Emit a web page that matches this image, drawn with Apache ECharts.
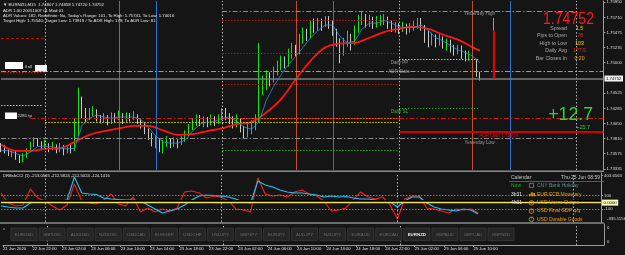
<!DOCTYPE html>
<html><head><meta charset="utf-8">
<script src="https://cdn.jsdelivr.net/npm/echarts@6/dist/echarts.min.js"></script>
<style>html,body{margin:0;padding:0;background:#151515;overflow:hidden}#c{width:625px;height:255px}</style>
</head><body><div id="c"></div>
<script>
// ---------- data ----------
const timeLabels = ['21 Jun 2020','22 Jun 22:00','23 Jun 02:00','23 Jun 06:00','23 Jun 10:00','23 Jun 14:00','23 Jun 18:00','23 Jun 22:00','24 Jun 02:00','24 Jun 06:00','24 Jun 10:00','24 Jun 14:00','24 Jun 18:00','24 Jun 22:00','25 Jun 02:00','25 Jun 06:00','25 Jun 10:00'];
const priceTicks = [1.73335,1.73575,1.73810,1.74050,1.74285,1.74525,1.75000,1.75235,1.75475,1.75710,1.75950];
const cciTicks = [403.6563,100,-100];
const cciTickLabels = ['403.6563','100','-100'];
const cciMinLabel = '-335.1156';

const opens = [1.7369,1.7366,1.7363,1.7357,1.7360,1.7352,1.7348,1.7354,1.7363,1.7371,
1.7379,1.7374,1.7368,1.7372,1.7366,1.7371,1.7363,1.7368,1.7362,1.7365,
1.7363,1.7387,1.7441,1.7422,1.7413,1.7422,1.7425,1.7413,1.7410,1.7415,
1.7407,1.7416,1.7413,1.7419,1.7410,1.7416,1.7413,1.7418,1.7410,1.7404,
1.7394,1.7385,1.7376,1.7379,1.7368,1.7372,1.7379,1.7371,1.7376,1.7372,
1.7379,1.7388,1.7397,1.7404,1.7413,1.7407,1.7410,1.7404,1.7413,1.7407,
1.7413,1.7422,1.7416,1.7410,1.7404,1.7410,1.7397,1.7388,1.7394,1.7401,
1.7410,1.7453,1.7464,1.7475,1.7472,1.7485,1.7494,1.7500,1.7497,1.7513,
1.7519,1.7516,1.7534,1.7542,1.7541,1.7558,1.7553,1.7562,1.7559,1.7569,
1.7562,1.7550,1.7534,1.7519,1.7531,1.7538,1.7531,1.7550,1.7566,1.7569,
1.7562,1.7566,1.7559,1.7564,1.7569,1.7570,1.7559,1.7555,1.7558,1.7553,
1.7556,1.7550,1.7556,1.7559,1.7564,1.7558,1.7542,1.7534,1.7541,1.7531,
1.7538,1.7528,1.7533,1.7524,1.7519,1.7524,1.7514,1.7510,1.7514,1.7503,
1.74807];
const closes = [1.7366,1.7363,1.7357,1.7360,1.7352,1.7348,1.7354,1.7363,1.7371,1.7379,
1.7374,1.7368,1.7372,1.7366,1.7371,1.7363,1.7368,1.7362,1.7365,1.7363,
1.7387,1.7441,1.7422,1.7413,1.7422,1.7425,1.7413,1.7410,1.7415,1.7407,
1.7416,1.7413,1.7419,1.7410,1.7416,1.7413,1.7418,1.7410,1.7404,1.7394,
1.7385,1.7376,1.7379,1.7368,1.7372,1.7379,1.7371,1.7376,1.7372,1.7379,
1.7388,1.7397,1.7404,1.7413,1.7407,1.7410,1.7404,1.7413,1.7407,1.7413,
1.7422,1.7416,1.7410,1.7404,1.7410,1.7397,1.7388,1.7394,1.7401,1.7410,
1.7453,1.7464,1.7475,1.7472,1.7485,1.7494,1.7500,1.7497,1.7513,1.7519,
1.7516,1.7534,1.7542,1.7541,1.7558,1.7553,1.7562,1.7559,1.7569,1.7562,
1.7550,1.7534,1.7519,1.7531,1.7538,1.7531,1.7550,1.7566,1.7569,1.7562,
1.7566,1.7559,1.7564,1.7569,1.7570,1.7559,1.7555,1.7558,1.7553,1.7556,
1.7550,1.7556,1.7559,1.7564,1.7558,1.7542,1.7534,1.7541,1.7531,1.7538,
1.7528,1.7533,1.7524,1.7519,1.7524,1.7514,1.7510,1.7514,1.7503,1.74807,
1.74752];
const highs = [1.7374,1.7371,1.7366,1.7365,1.7362,1.7355,1.7358,1.7366,1.7376,1.7383,
1.7382,1.7377,1.7379,1.7374,1.7376,1.7372,1.7374,1.7371,1.7369,1.7371,
1.7413,1.7461,1.7447,1.7429,1.7429,1.7432,1.7427,1.7418,1.7421,1.7418,
1.7422,1.7421,1.7425,1.7421,1.7422,1.7421,1.7424,1.7419,1.7413,1.7407,
1.7397,1.7390,1.7385,1.7382,1.7379,1.7385,1.7382,1.7383,1.7380,1.7385,
1.7394,1.7404,1.7413,1.7419,1.7418,1.7416,1.7415,1.7419,1.7416,1.7419,
1.7429,1.7429,1.7421,1.7416,1.7419,1.7413,1.7401,1.7407,1.7410,1.7419,
1.7531,1.7480,1.7488,1.7485,1.7494,1.7503,1.7511,1.7510,1.7522,1.7531,
1.7528,1.7545,1.7555,1.7553,1.7566,1.7569,1.7570,1.7569,1.7573,1.7573,
1.7566,1.7553,1.7538,1.7539,1.7550,1.7545,1.7558,1.7575,1.7581,1.7576,
1.7575,1.7572,1.7573,1.7575,1.7576,1.7572,1.7566,1.7564,1.7562,1.7564,
1.7561,1.7562,1.7566,1.7570,1.7570,1.7559,1.7550,1.7547,1.7544,1.7545,
1.7541,1.7538,1.7536,1.7528,1.7528,1.7527,1.7519,1.7519,1.7517,1.7506,
1.74858];
const lows = [1.7360,1.7358,1.7354,1.7352,1.7348,1.7343,1.7344,1.7351,1.7360,1.7368,
1.7369,1.7363,1.7365,1.7360,1.7363,1.7358,1.7360,1.7355,1.7358,1.7358,
1.7362,1.7385,1.7413,1.7407,1.7410,1.7416,1.7408,1.7405,1.7407,1.7402,
1.7404,1.7407,1.7410,1.7404,1.7407,1.7408,1.7410,1.7404,1.7397,1.7388,
1.7379,1.7369,1.7366,1.7360,1.7358,1.7368,1.7366,1.7368,1.7366,1.7371,
1.7376,1.7385,1.7394,1.7401,1.7401,1.7399,1.7399,1.7402,1.7401,1.7404,
1.7410,1.7410,1.7404,1.7397,1.7399,1.7391,1.7382,1.7383,1.7388,1.7394,
1.7407,1.7449,1.7457,1.7463,1.7469,1.7480,1.7488,1.7491,1.7494,1.7506,
1.7510,1.7513,1.7530,1.7534,1.7538,1.7547,1.7550,1.7550,1.7556,1.7553,
1.7542,1.7525,1.7499,1.7511,1.7525,1.7519,1.7528,1.7547,1.7559,1.7555,
1.7556,1.7553,1.7555,1.7558,1.7559,1.7553,1.7548,1.7547,1.7545,1.7548,
1.7544,1.7547,1.7550,1.7553,1.7550,1.7531,1.7524,1.7527,1.7524,1.7527,
1.7522,1.7519,1.7516,1.7511,1.7513,1.7506,1.7502,1.7503,1.7494,1.7478,
1.74720];
// slow MA, one value every 4 bars (last one at the final bar)
const slowMA = [1.7372,1.7362,1.7362,1.7365,1.7366,1.7376,1.7387,1.7393,1.7397,1.7401,
1.7401,1.7394,1.7387,1.7388,1.7393,1.7397,1.7404,1.7407,1.7422,1.7443,
1.7474,1.7503,1.7524,1.7530,1.7531,1.7539,1.7548,1.7553,1.7556,1.7553,
1.7544,1.7536,1.7524,1.7519];
// fast MA, one value every 2 bars
const fastMA = [1.7363,1.7362,1.7358,1.7354,1.7360,1.7369,1.7369,1.7368,1.7366,1.7365,
1.7366,1.7402,1.7413,1.7418,1.7415,1.7413,1.7415,1.7415,1.7415,1.7411,
1.7399,1.7385,1.7376,1.7374,1.7374,1.7379,1.7393,1.7404,1.7407,1.7408,
1.7413,1.7415,1.7408,1.7399,1.7396,1.7407,1.7441,1.7463,1.7481,1.7497,
1.7510,1.7524,1.7539,1.7550,1.7559,1.7559,1.7541,1.7531,1.7534,1.7553,
1.7562,1.7562,1.7566,1.7562,1.7556,1.7555,1.7555,1.7559,1.7550,1.7539,
1.7534,1.7527,1.7520,1.7516,1.7510,1.7500];
// CCI lines, one value every 2 bars
const cciSlow = [-55,-70,-85,-85,-10,20,12,5,20,35,380,140,125,117,65,50,42,35,35,20,
-40,-100,-160,-130,-100,-40,35,95,110,102,95,80,50,5,-10,320,260,230,185,155,
140,140,125,110,80,95,80,87,65,50,50,35,20,5,-70,20,80,80,-10,-70,
-100,-115,-130,-100,-115,-175];
const cciFast = [140,-10,-55,-40,200,65,20,-55,-115,-40,275,20,-10,-25,35,125,-25,-55,80,-145,
-85,-145,-100,-130,-85,155,170,140,65,95,80,20,-100,-115,-145,365,125,95,110,80,
155,185,125,95,20,-130,-115,-85,35,155,80,50,80,-40,-250,50,95,95,-85,-100,
-130,-160,-100,-115,-100,-160];
// levels
const yesterdayLevels = [1.7581, 1.7382];
const adrLevels = [1.74866, 1.74125, 1.73919];
const pivots23 = [1.7539, 1.7485, 1.7433, 1.7413, 1.7407];
const pivots24 = [1.7567, 1.7514, 1.7466, 1.7413, 1.7363];
const pivots25 = [1.7505, 1.7428];
const dayBar = [1.7570, 1.7550, 1.74752];
const dayStartIdx = [12, 60, 108, 156];
const sessionOpenIdx = [32, 80, 128];
const sessionCloseIdx = [42.2, 90.2, 138.2];
const statLabels = ['Spread','Pips to Open','High to Low','Daily Avg','Bar Closes In'];
const statValues = ['1.5','-78','103','177.5','0:20'];
const calTimes = ['Now','3h31','4h31','',''];
const calEvents = ['CNY Bank Holiday','EUR ECB Monetary','USD Unem Claims','USD Final GDP q/q','USD Durable Goods'];
const symbols = ['EURUSD','GBPUSD','AUDUSD','NZDUSD','USDCAD','EURGBP','USDCHF','USDJPY','GBPJPY','EURJPY','AUDJPY','NZDJPY','EURAUD','EURCAD','EURNZD','GBPAUD','GBPCAD','GBPNZD'];

// ---------- chart ----------
const FF = '"Liberation Sans","DejaVu Sans",sans-serif';
const X_MAX = 163.5;
const DOT = [1.5,1.5], DASHDOT = [5,2,1.5,2];
const chart = echarts.init(document.getElementById('c'), null, {renderer:'canvas', width:625, height:255});

function hseg(x1,x2,p,color,type,width){ return [{coord:[x1,p], lineStyle:{color:color,type:type,width:width||1}},{coord:[x2,p]}]; }
function vline(x,color,type,width){ return {xAxis:x, lineStyle:{color:color,type:type,width:width||1}}; }
const sepStyle = ['#b5b5b5',[1.5,2],1];

const mainLines = [];
dayStartIdx.forEach(x => mainLines.push(vline(x, sepStyle[0], sepStyle[1], sepStyle[2])));
sessionOpenIdx.forEach(x => mainLines.push(vline(x,'#c4521c','solid',1)));
sessionCloseIdx.forEach(x => mainLines.push(vline(x,'#2474d0','solid',1)));
mainLines.push(hseg(0,11.7,pivots23[0],'#c01010',[3,2]));
mainLines.push(hseg(0,12,pivots23[1],'#c01010',DOT));
mainLines.push(hseg(0,11.3,pivots23[2],'#d8d800',DOT));
mainLines.push(hseg(8,108,pivots23[3],'#c81818',DASHDOT));
mainLines.push(hseg(12,108,pivots23[4],'#d8d800',DOT));
mainLines.push(hseg(60,108,pivots24[0],'#b01818',DOT));
mainLines.push(hseg(60,108,pivots24[1],'#b01818',DOT));
mainLines.push(hseg(60,108,pivots24[2],'#b01818',DOT));
mainLines.push(hseg(60,108,pivots24[3],'#e07000',DOT));
mainLines.push(hseg(60,108,pivots24[4],'#20a020',DOT));
mainLines.push(hseg(108,129.5,pivots25[0],'#d8d800',DOT));
mainLines.push(hseg(108,129.5,pivots25[1],'#20a020',DOT));
mainLines.push(hseg(60,156,yesterdayLevels[0],'#8c8c8c',DASHDOT));
mainLines.push(hseg(0,156,yesterdayLevels[1],'#8c8c8c',DASHDOT));
mainLines.push(hseg(0,X_MAX,adrLevels[0],'#f08c00',DASHDOT));
mainLines.push(hseg(108,X_MAX,adrLevels[1],'#d01818',DASHDOT));
mainLines.push(hseg(108,X_MAX,adrLevels[2],'#d00000','solid',2));
mainLines.push({yAxis:dayBar[2], lineStyle:{color:'#7c7c7c',width:1.5,type:'solid'},
  label:{show:true,position:'end',formatter:dayBar[2].toFixed(5),color:'#000',backgroundColor:'#f0f0f0',fontSize:4.3,fontFamily:FF,padding:[1,1.5],distance:1}});
mainLines.push([{coord:[133.7,dayBar[0]],lineStyle:{color:'#9a9a9a',width:1,type:'solid'}},{coord:[133.7,dayBar[1]]}]);
mainLines.push([{coord:[133.7,dayBar[1]],lineStyle:{color:'#e00000',width:2.2,type:'solid'}},{coord:[133.7,dayBar[2]]}]);

const cciLines = [];
dayStartIdx.forEach(x => cciLines.push(vline(x, sepStyle[0], sepStyle[1], sepStyle[2])));
cciLines.push({yAxis:100, lineStyle:{color:'#7a7a7a',type:DOT,width:1}});
cciLines.push({yAxis:-100, lineStyle:{color:'#7a7a7a',type:DOT,width:1}});
cciLines.push({yAxis:18, lineStyle:{color:'#000',type:'solid',width:2}});
cciLines.push({yAxis:-5, lineStyle:{color:'#f0e060',type:'solid',width:1.3},
  label:{show:true,position:'end',formatter:'0.0000',color:'#000',backgroundColor:'#ffffc0',fontSize:4.3,fontFamily:FF,padding:[1,1.5],distance:1}});
const botLines = [];
dayStartIdx.forEach(x => botLines.push(vline(x, sepStyle[0], sepStyle[1], sepStyle[2])));

const labelIdx = timeLabels.map((_, j) => j * 8);
const candleData = closes.map((c, i) => [i, opens[i], c, lows[i], highs[i]]);
const slowData = slowMA.map((v, j) => [Math.min(j * 4, closes.length - 1), v]);
const fastData = fastMA.map((v, k) => [k * 2, v]);
const cciSlowData = cciSlow.map((v, k) => [k * 2, v]);
const cciFastData = cciFast.map((v, k) => [k * 2, v]);

const mk = (data) => ({symbol:['none','none'], precision:6, silent:true, animation:false, label:{show:false}, emphasis:{disabled:true}, data});
const axisLineStyle = {show:true, onZero:false, lineStyle:{color:'#9c9c9c', width:1}};
const ylab = {color:'#dedede', fontSize:4.3, fontFamily:FF, margin:3};

chart.setOption({
  backgroundColor:'#151515',
  animation:false,
  grid:[
    {left:1, right:21, top:0, height:170},
    {left:1, right:21, top:173, height:49},
    {left:1, right:21, top:224, height:21}
  ],
  xAxis:[
    {type:'value', gridIndex:0, min:0, max:X_MAX, show:false},
    {type:'value', gridIndex:1, min:0, max:X_MAX, show:false},
    {type:'value', gridIndex:2, min:0, max:X_MAX, position:'bottom',
      axisLine:axisLineStyle,
      axisTick:{show:true, customValues:labelIdx, length:2, lineStyle:{color:'#9c9c9c'}},
      axisLabel:{show:true, customValues:labelIdx, formatter:v => timeLabels[Math.round(v/8)] || '', color:'#e0e0e0', fontSize:4.2, fontFamily:FF, align:'left', margin:2},
      splitLine:{show:false}}
  ],
  yAxis:[
    {type:'value', gridIndex:0, position:'right', min:1.73320, max:1.75967, axisLine:axisLineStyle,
      axisTick:{show:true, customValues:priceTicks, length:2, lineStyle:{color:'#9c9c9c'}},
      axisLabel:Object.assign({customValues:priceTicks, formatter:v => v.toFixed(5)}, ylab), splitLine:{show:false}},
    {type:'value', gridIndex:1, position:'right', min:-295.5, max:439.5, axisLine:axisLineStyle,
      axisTick:{show:true, customValues:cciTicks, length:2, lineStyle:{color:'#9c9c9c'}},
      axisLabel:Object.assign({customValues:cciTicks, formatter:v => { const j = cciTicks.findIndex(t => Math.abs(t - v) < 1e-6); return j >= 0 ? cciTickLabels[j] : ''; }}, ylab), splitLine:{show:false}},
    {type:'value', gridIndex:2, position:'right', min:0, max:1, axisLine:axisLineStyle,
      axisTick:{show:false},
      axisLabel:Object.assign({customValues:[0.157,0.824], formatter:() => '0'}, ylab), splitLine:{show:false}}
  ],
  series:[
    {type:'line', xAxisIndex:0, yAxisIndex:0, data:[[0, closes[0]]], showSymbol:false, lineStyle:{opacity:0}, silent:true, z:1, markLine:mk(mainLines)},
    {type:'candlestick', xAxisIndex:0, yAxisIndex:0, data:candleData, encode:{x:0, y:[1,2,3,4]}, barWidth:1.3, z:3, silent:true,
      itemStyle:{color:'#00f000', color0:'#c8c8c8', borderColor:'#00f000', borderColor0:'#c8c8c8', borderWidth:1}},
    {type:'line', xAxisIndex:0, yAxisIndex:0, data:slowData, showSymbol:false, smooth:0.35, z:4, silent:true, lineStyle:{color:'#ff1414', width:1.8}},
    {type:'line', xAxisIndex:0, yAxisIndex:0, data:fastData, showSymbol:false, z:5, silent:true, lineStyle:{color:'#2a90dc', width:0.8}},
    {type:'line', xAxisIndex:1, yAxisIndex:1, data:[[0,0]], showSymbol:false, lineStyle:{opacity:0}, silent:true, z:1, markLine:mk(cciLines)},
    {type:'line', xAxisIndex:1, yAxisIndex:1, data:cciFastData, showSymbol:false, z:3, silent:true, lineStyle:{color:'#ff1a1a', width:1.1}},
    {type:'line', xAxisIndex:1, yAxisIndex:1, data:cciSlowData, showSymbol:false, z:4, silent:true, lineStyle:{color:'#22c4f4', width:1.1}},
    {type:'line', xAxisIndex:2, yAxisIndex:2, data:[[0,0.5]], showSymbol:false, lineStyle:{opacity:0}, silent:true, z:1, markLine:mk(botLines)}
  ]
});

// ---------- text / panel graphics ----------
const g = [];
function txt(x, y, s, fill, size, align, extra) {
  const a = align || 'left';
  g.push(Object.assign({type:'text', x:x, y:y, silent:true, z:50,
    style:{text:s, fill:fill, font:(extra && extra.bold ? 'bold ' : '') + size + 'px ' + FF, textAlign:a, align:a, textVerticalAlign:'middle', verticalAlign:'middle'}},
    extra && extra.el ? extra.el : {}));
}
function rect(x, y, w, h, fill, stroke) {
  g.push({type:'rect', silent:true, z:40, shape:{x:x, y:y, width:w, height:h}, style:{fill:fill || 'none', stroke:stroke || 'none', lineWidth:0.8}});
}
function line(x1, y1, x2, y2, color, w) {
  g.push({type:'line', silent:true, z:45, shape:{x1:x1, y1:y1, x2:x2, y2:y2}, style:{stroke:color, lineWidth:w || 1}});
}
// pane separators
line(0, 171.2, 604, 171.2, '#8a8a8a', 1.4);
line(0, 223, 604, 223, '#8a8a8a', 1.4);

// header texts
txt(3, 5.3, '\u25BC EURNZD,M15  1.74807 1.74858 1.74720 1.74752', '#e8e8e8', 4.3);
txt(3, 10.5, 'ADR 1.00 20051007 01 Mod 01', '#e8e8e8', 4.3);
txt(3, 15.7, "ADR Values: 182, Redefinite: No, Today's Range: 101, To High: 1.75741, To Low: 1.74016", '#e8e8e8', 4.3);
txt(3, 21.3, 'Target High: 1.75540; Target Low: 1.73919 / To ADR High: 179; To ADR Low: 81', '#e8e8e8', 4.3);

// left label boxes
rect(5, 62, 18, 7, '#ffffff');
txt(23.5, 67, '.ll all', '#d8d8d8', 4.3);
rect(35, 65, 12, 6.5, '#ffffff');
rect(5, 112.5, 12, 6.5, '#ffffff');
txt(17.5, 116, '2281 tp', '#d8d8d8', 4.3);

// level captions
txt(479.5, 13.3, 'Yesterday High', '#9a9a9a', 4.6, 'center');
txt(479.5, 142.3, 'Yesterday Low', '#9a9a9a', 4.6, 'center');
txt(399.5, 62.3, 'Daily PP', '#9a9a9a', 4.6, 'center');
txt(399, 71.8, 'ADR Stats', '#9a9a9a', 4.6, 'center');
txt(399.5, 111.7, 'Daily S1', '#3cb043', 4.6, 'center');
txt(498.5, 135.8, 'ADR Low: 1.73919', '#e01010', 4.6, 'center');

// price panel
txt(594, 19.8, dayBar[2].toFixed(5), '#ff1a1a', 17, 'right', {el:{scaleX:0.83}});
const statColors = ['#f0e000','#ff2020','#f0e000','#ff2020','#f0b000'];
const statY = [28.3, 35.6, 43.1, 50.9, 58.6];
statLabels.forEach((s, j) => {
  txt(567, statY[j], s, '#a6a6a6', 5.2, 'right');
  txt(579.5, statY[j], statValues[j], statColors[j], 5.2, 'center');
});
txt(593, 114.8, '+12.7', '#2bd82b', 19, 'right', {el:{scaleX:0.93}});
txt(590, 127.5, '+25.7', '#2bd82b', 5.4, 'right');

// CCI pane title and min label
txt(3, 176.3, 'DRBsbCCI (1) -213.0515 -212.5824 -212.5024 -124.1416', '#e0e0e0', 4.2);
txt(607, 219.2, cciMinLabel, '#dedede', 4.3);

// calendar
txt(511, 177.3, 'Calendar', '#c8c8c8', 5);
txt(600, 177.3, 'Thu 25 Jun 08:59', '#c8c8c8', 5, 'right');
line(509, 181.5, 604, 181.5, '#6a6a6a', 0.8);
const calY = [185.4, 194.2, 202.8, 211.1, 219.3];
calEvents.forEach((s, j) => {
  const y = calY[j];
  if (calTimes[j]) txt(511, y, calTimes[j], j === 0 ? '#10b010' : '#e4e4e4', 5);
  const col = j === 0 ? '#5e9090' : '#e8a000';
  if (j === 0) {
    rect(529.5, y - 2, 4, 4, 'none', col);
  } else if (j === 1) {
    rect(529, y - 0.5, 1.6, 2.5, col);
    rect(531.2, y - 2, 1.6, 4, col);
    rect(533.4, y - 1.2, 1.6, 3.2, col);
  } else {
    g.push({type:'circle', silent:true, z:40, shape:{cx:531.5, cy:y, r:2.3}, style:{fill:'none', stroke:col, lineWidth:0.8}});
    txt(531.5, y, '!', col, 4, 'center', {bold:true});
  }
  txt(537, y, s, col, 5);
});

// bottom pane
txt(3, 229, 'x', '#b8b8b8', 4.3);
symbols.forEach((s, k) => {
  const x = 11 + 28.06 * k;
  rect(x, 228, 26, 12.5, '#252525', '#383838');
  const active = s === 'EURNZD';
  txt(x + 13, 234.4, s, active ? '#e6e6e6' : '#6c6c6c', 4.4, 'center', active ? {bold:true} : null);
});

chart.setOption({graphic: g});
</script></body></html>
